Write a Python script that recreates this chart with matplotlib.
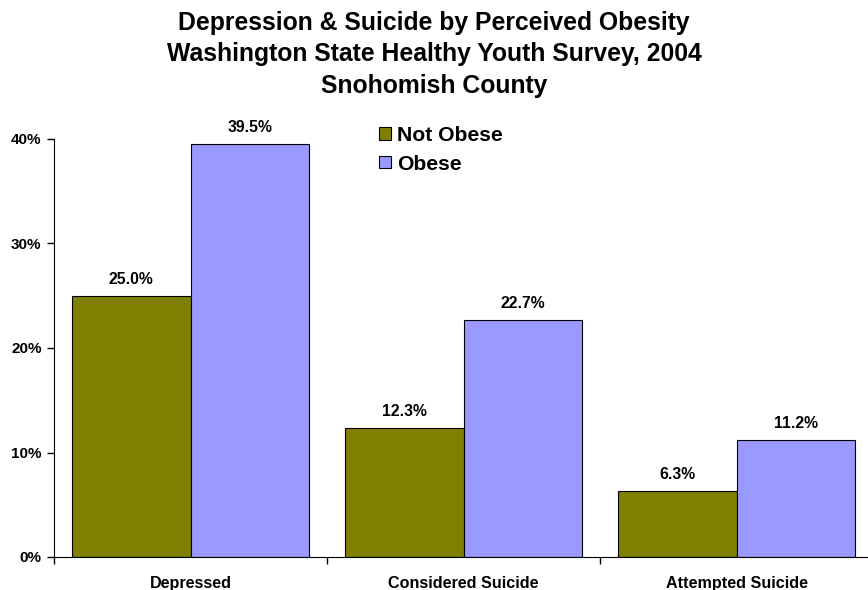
import matplotlib
matplotlib.use("Agg")
import matplotlib.pyplot as plt
import numpy as np

plt.rcParams['font.family'] = ['Liberation Sans', 'DejaVu Sans']

categories = ["Depressed", "Considered Suicide", "Attempted Suicide"]
not_obese = [25.0, 12.3, 6.3]
obese = [39.5, 22.7, 11.2]
series_names = ["Not Obese", "Obese"]
colors = ["#808000", "#9999FF"]
yticks = [0, 10, 20, 30, 40]

W, H = 868, 590
fig = plt.figure(figsize=(W / 100, H / 100), dpi=100)
ax = fig.add_axes([54 / W, 1 - 557 / H, 819 / W, (557 - 139) / H])

x = np.arange(len(categories))
bw = 0.434
for i, (vals, name, c) in enumerate(zip([not_obese, obese], series_names, colors)):
    pos = x + (i - 0.5) * bw
    ax.bar(pos, vals, width=bw, color=c, edgecolor="black", linewidth=0.8, label=name, zorder=2)
    for p, v in zip(pos, vals):
        ax.annotate(f"{v:.1f}%", (p, v), xytext=(0, 6.5), textcoords="offset points",
                    ha="center", va="bottom", fontsize=11.3, fontweight="bold")

ax.set_xlim(-0.5, len(categories) - 0.5)
ax.set_ylim(0, 40)
ax.set_yticks(yticks)
ax.set_yticklabels([f"{t}%" for t in yticks], fontsize=11, fontweight="bold")
ax.set_xticks(x)
ax.set_xticklabels(categories, fontsize=11.6, fontweight="bold")
ax.tick_params(axis="x", length=0, pad=14)
ax.set_xticks(np.arange(len(categories) + 1) - 0.5, minor=True)
ax.tick_params(axis="x", which="minor", length=5, width=1)
ax.tick_params(axis="y", length=5, width=1, pad=4)
for s in ["top", "right"]:
    ax.spines[s].set_visible(False)

leg = ax.legend(loc="upper left", bbox_to_anchor=(360 / W, 1 - 107 / H),
                bbox_transform=fig.transFigure, frameon=False,
                prop={"size": 15.2, "weight": "bold"}, handlelength=0.55,
                handleheight=0.55, handletextpad=0.3, labelspacing=0.45)

fig.text(0.5, 1 - 54.5 / H,
         "Depression & Suicide by Perceived Obesity\nWashington State Healthy Youth Survey, 2004\nSnohomish County",
         ha="center", va="center", fontsize=17.8, fontweight="bold", linespacing=1.39)

fig.savefig("out.png", dpi=100)
